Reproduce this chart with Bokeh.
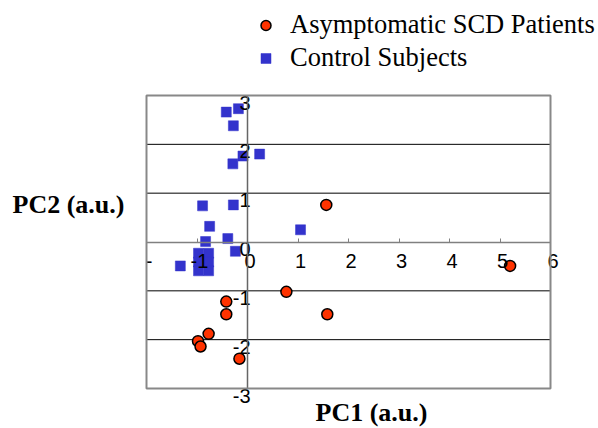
from bokeh.plotting import figure
from bokeh.models import (Range1d, LinearAxis, FixedTicker, Legend, LegendItem,
                          Label, BoxAnnotation, ColumnDataSource)
from bokeh.embed import file_html
from bokeh.resources import INLINE

# ---- data ----
scd_pc1 = [1.56, 5.20, 1.58, 0.77, -0.42, -0.42, -0.77, -0.98, -0.93, -0.16]
scd_pc2 = [0.76, -0.49, -1.48, -1.02, -1.22, -1.48, -1.88, -2.03, -2.14, -2.39]

ctrl_pc1 = [-0.42, -0.18, -0.28, -0.09, 0.24, -0.29, -0.89, -0.28, -0.75, 1.05,
            -0.83, -0.39, -0.24, -1.33, -0.97, -0.77, -0.97, -0.77, -0.97, -0.77]
ctrl_pc2 = [2.66, 2.73, 2.38, 1.76, 1.80, 1.60, 0.74, 0.76, 0.32, 0.25,
            0.01, 0.07, -0.19, -0.49, -0.23, -0.23, -0.41, -0.41, -0.59, -0.59]

x_ticks = [-2, -1, 0, 1, 2, 3, 4, 5, 6]
x_tick_labels = ["-", "-1", "0", "1", "2", "3", "4", "5", "6"]
y_ticks = [-3, -2, -1, 0, 1, 2, 3]
y_tick_labels = ["-3", "-2", "-1", "0", "1", "2", "3"]
y_grid_values = [-2, -1, 1, 2]

series_names = ["Asymptomatic SCD Patients", "Control Subjects"]
x_title = "PC1 (a.u.)"
y_title = "PC2 (a.u.)"

# ---- layout: the plot box spans x -2..6 and y -3..3, placed in a full-canvas frame ----
W, H = 598, 428
BOX_L, BOX_R, BOX_T, BOX_B = 146, 550, 95, 388
x0, x1 = x_ticks[0], x_ticks[-1]
y0, y1 = y_ticks[0], y_ticks[-1]
ux = (BOX_R - BOX_L) / (x1 - x0)
uy = (BOX_B - BOX_T) / (y1 - y0)
xr = Range1d(x0 - BOX_L / ux, x1 + (W - BOX_R) / ux)
yr = Range1d(y0 - (H - BOX_B) / uy, y1 + BOX_T / uy)

p = figure(width=W, height=H, output_backend="svg", toolbar_location=None,
           x_range=xr, y_range=yr, x_axis_location=None, y_axis_location=None,
           min_border=0)
p.background_fill_color = "white"
p.border_fill_color = "white"
p.outline_line_color = None
p.xgrid.visible = False
p.ygrid.visible = False

# horizontal grid lines across the plot box
gsrc = ColumnDataSource(dict(x0=[x0] * len(y_grid_values), x1=[x1] * len(y_grid_values),
                             y=y_grid_values))
p.segment(x0="x0", y0="y", x1="x1", y1="y", source=gsrc, line_color="black", line_width=1)

box = BoxAnnotation(left=x0, right=x1, bottom=y0, top=y1, fill_color=None,
                    line_color="#888888", line_width=2, line_alpha=1)
p.add_layout(box)

TICK_FONT = "Liberation Sans"

xaxis = LinearAxis(fixed_location=0, bounds=(x0, x1), ticker=FixedTicker(ticks=x_ticks))
xaxis.axis_line_color = "#808080"
xaxis.axis_line_width = 1.5
xaxis.major_tick_line_color = "#808080"
xaxis.major_tick_in = 4
xaxis.major_tick_out = 0
xaxis.minor_tick_line_color = None
xaxis.major_label_text_font_size = "0px"
xaxis.major_label_text_alpha = 0
p.add_layout(xaxis, "below")

yaxis = LinearAxis(fixed_location=0, bounds=(y0, y1), ticker=FixedTicker(ticks=y_ticks))
yaxis.axis_line_color = "#666666"
yaxis.axis_line_width = 1.5
yaxis.major_tick_line_color = None
yaxis.minor_tick_line_color = None
yaxis.major_label_text_font_size = "0px"
yaxis.major_label_text_alpha = 0
p.add_layout(yaxis, "left")

ctrl = p.scatter(ctrl_pc1, ctrl_pc2, marker="square", size=10,
                 fill_color="#3333cc", line_color="#3333cc", line_width=0.5)
scd = p.scatter(scd_pc1, scd_pc2, marker="circle", size=11,
                fill_color="#ff3300", line_color="black", line_width=1.5)

# tick labels, drawn at the tick positions through the plot's scales
xsrc = ColumnDataSource(dict(x=x_ticks, y=[0] * len(x_ticks), t=x_tick_labels))
p.text("x", "y", text="t", source=xsrc, x_offset=2.5, y_offset=19,
       text_align="center", text_baseline="middle",
       text_font={"value": TICK_FONT}, text_font_size="20px", text_color="black")
ysrc = ColumnDataSource(dict(x=[0] * len(y_ticks), y=y_ticks, t=y_tick_labels))
p.text("x", "y", text="t", source=ysrc, x_offset=3, y_offset=7,
       text_align="right", text_baseline="middle",
       text_font={"value": TICK_FONT}, text_font_size="20px", text_color="black")

legend = Legend(items=[LegendItem(label=series_names[0], renderers=[scd]),
                       LegendItem(label=series_names[1], renderers=[ctrl])],
                location=(253, H - 73), orientation="vertical",
                glyph_width=25, glyph_height=30, label_height=30, spacing=2,
                label_standoff=12, padding=0, margin=0,
                border_line_color=None, background_fill_alpha=0,
                label_text_font="Liberation Serif", label_text_font_size="26.5px",
                label_text_color="black")
p.add_layout(legend, "center")

p.add_layout(Label(x=12, y=H - 204, x_units="screen", y_units="screen", text=y_title,
                   text_font="Liberation Serif", text_font_style="bold",
                   text_font_size="26px", text_baseline="alphabetic", text_color="black"))
p.add_layout(Label(x=315, y=H - 412, x_units="screen", y_units="screen", text=x_title,
                   text_font="Liberation Serif", text_font_style="bold",
                   text_font_size="26px", text_baseline="alphabetic", text_color="black"))

open("out.html", "w").write(file_html(p, INLINE))
